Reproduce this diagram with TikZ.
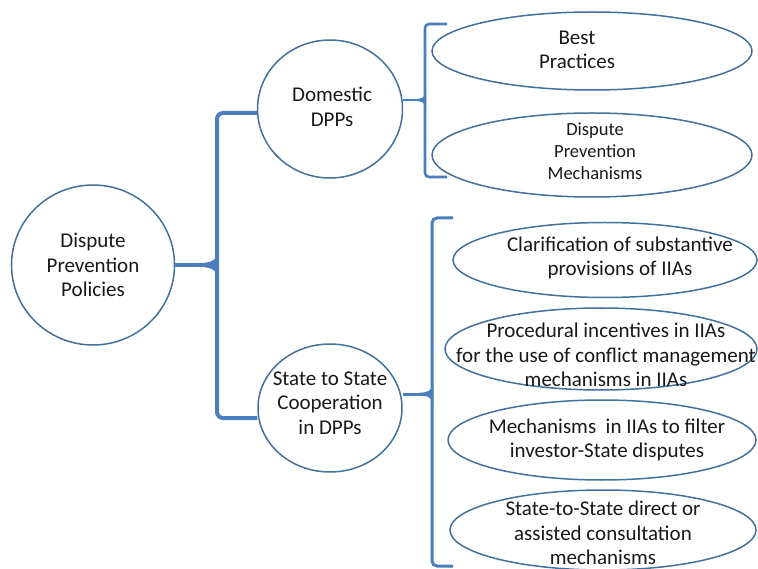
\documentclass[tikz,border=0pt]{standalone}
\usepackage{fontspec}
\setmainfont{Carlito}
\usetikzlibrary{shapes.geometric}
\definecolor{outl}{HTML}{41719C}
\definecolor{brc}{HTML}{4A7EBF}
\tikzset{
  shp/.style={ellipse, draw=outl, line width=1.5pt, fill=white, inner sep=0pt},
  txt/.style={align=center, font=\fontsize{21}{24.5}\selectfont, text=black!90, inner sep=0pt},
  stxt/.style={align=center, font=\fontsize{18.5}{22}\selectfont, text=black!90, inner sep=0pt},
  bigbr/.style={draw=brc, line width=4pt, rounded corners=6pt},
  smbr/.style={draw=brc, line width=2.6pt, rounded corners=4pt},
  midbr/.style={draw=brc, line width=3pt, rounded corners=5pt},
}
\begin{document}
\begin{tikzpicture}[x=1pt, y=-1pt]
\useasboundingbox (0,0) rectangle (758,569);
% shapes
\node[shp, minimum width=163pt, minimum height=160pt] (dpp) at (93,265) {};
\node[shp, minimum width=145pt, minimum height=138pt] (dom) at (330,109) {};
\node[shp, minimum width=144pt, minimum height=128pt] (sts) at (330,408) {};
\node[shp, minimum width=320pt, minimum height=78pt] (bp) at (592,51) {};
\node[shp, minimum width=320pt, minimum height=84pt] (dpm) at (592,155) {};
\node[shp, minimum width=304pt, minimum height=75pt] (c1) at (605,260) {};
\node[shp, minimum width=312pt, minimum height=82pt] (c2) at (601,349) {};
\node[shp, minimum width=308pt, minimum height=80pt] (c3) at (602,440) {};
\node[shp, minimum width=306pt, minimum height=80pt] (c4) at (603,530) {};
% big brace
\coordinate (bbt) at (217,113);
\coordinate (bbb) at (217,418);
\coordinate (bbm) at (217,265);
\draw[bigbr] (dom.west |- bbt) -- (bbt) -- (bbb) -- (sts.west |- bbb);
\draw[draw=brc, line width=4pt] (dpp.east) -- (bbm);
\fill[brc] (218,253) .. controls (216,261) and (210,263) .. (196,263.5) -- (196,266.5) .. controls (210,267) and (216,269) .. (218,277) -- cycle;
% domestic bracket
\coordinate (dbt) at (425,24);
\coordinate (dbb) at (425,177);
\coordinate (dbm) at (425,100);
\draw[smbr] (447,24) -- (dbt) -- (dbb) -- (447,177);
\draw[draw=brc, line width=2.6pt] (dom.east |- dbm) -- (dbm);
\fill[brc] (426,92) .. controls (425,98) and (421,99) .. (414,99.2) -- (414,100.8) .. controls (421,101) and (425,102) .. (426,108) -- cycle;
% state bracket
\coordinate (sbt) at (432,218);
\coordinate (sbb) at (432,566);
\coordinate (sbm) at (432,394);
\draw[midbr] (453,218) -- (sbt) -- (sbb) -- (453,566);
\draw[draw=brc, line width=3pt] (sts.east |- sbm) -- (sbm);
\fill[brc] (433,384) .. controls (432,391) and (427,392.5) .. (419,392.8) -- (419,395.2) .. controls (427,395.5) and (432,397) .. (433,404) -- cycle;
% texts
\node[txt] at (93,265) {Dispute\\Prevention\\Policies};
\node[txt] at (332,107) {Domestic\\DPPs};
\node[txt] at (330,403) {State to State\\Cooperation\\in DPPs};
\node[txt] at (577,50) {Best\\Practices};
\node[stxt] at (595,151) {Dispute\\Prevention\\Mechanisms};
\node[txt] at (620,258) {Clarification of substantive\\provisions of IIAs};
\node[txt] at (606,355) {Procedural incentives in IIAs\\for the use of conflict management\\mechanisms in IIAs};
\node[txt] at (607,440) {Mechanisms\ \ in IIAs to filter\\investor-State disputes};
\node[txt] at (603,533) {State-to-State direct or\\assisted consultation\\mechanisms};
\end{tikzpicture}
\end{document}
